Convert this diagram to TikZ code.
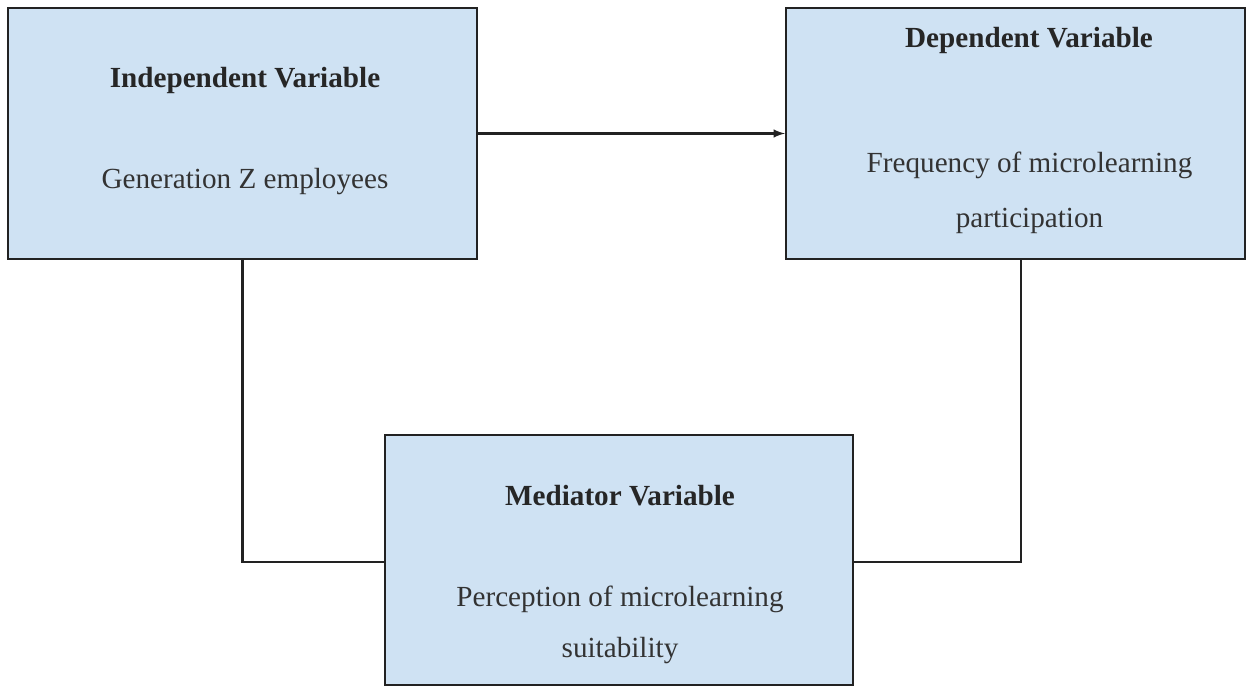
\documentclass[tikz,border=0pt]{standalone}
\usepackage{fontspec}
\setmainfont{Liberation Serif}
\definecolor{boxblue}{HTML}{CFE2F3}
\definecolor{edgegray}{HTML}{222222}

\begin{document}
\begin{tikzpicture}[>=latex, x=0.02cm, y=-0.02cm,
    varbox/.style={draw=edgegray, line width=1.4pt, fill=boxblue, inner sep=0pt},
    vartitle/.style={font=\fontsize{16.6}{20}\selectfont\bfseries, text=black!85},
    vartext/.style={font=\fontsize{16.6}{20}\selectfont, text=black!80},
    link/.style={draw=edgegray, line width=1.2pt}]
    \useasboundingbox (0,0) rectangle (1253,686);

    % boxes
    \node[varbox, minimum width=9.38cm, minimum height=5.02cm]
        (indep) at (242.5,133.5) {};
    \node[varbox, minimum width=9.18cm, minimum height=5.02cm]
        (dep) at (1015.5,133.5) {};
    \node[varbox, minimum width=9.36cm, minimum height=5.0cm]
        (med) at (619,560) {};

    % texts
    \node[vartitle] (indeptitle) at (245,80) {Independent Variable};
    \node[vartext] (indepbody) at (245,182) {Generation Z employees};

    \node[vartitle] (deptitle) at (1029,40) {Dependent Variable};
    \node[vartext, align=center] (depbody) at (1029.5,193)
        {Frequency of microlearning\\[11.3pt] participation};

    \node[vartitle] (medtitle) at (620,496) {Mediator Variable};
    \node[vartext, align=center] (medbody) at (620,625)
        {Perception of microlearning\\[9pt] suitability};

    % connectors
    \coordinate (bend1) at (243,562);
    \coordinate (bend2) at (1021,562);
    \draw[link, ->] (indep.east) -- (dep.west);
    \draw[link] (indep.south) |- (bend1 -| med.west);
    \draw[link] (bend2 -| med.east) -- (bend2) -- (bend2 |- dep.south);
\end{tikzpicture}
\end{document}
